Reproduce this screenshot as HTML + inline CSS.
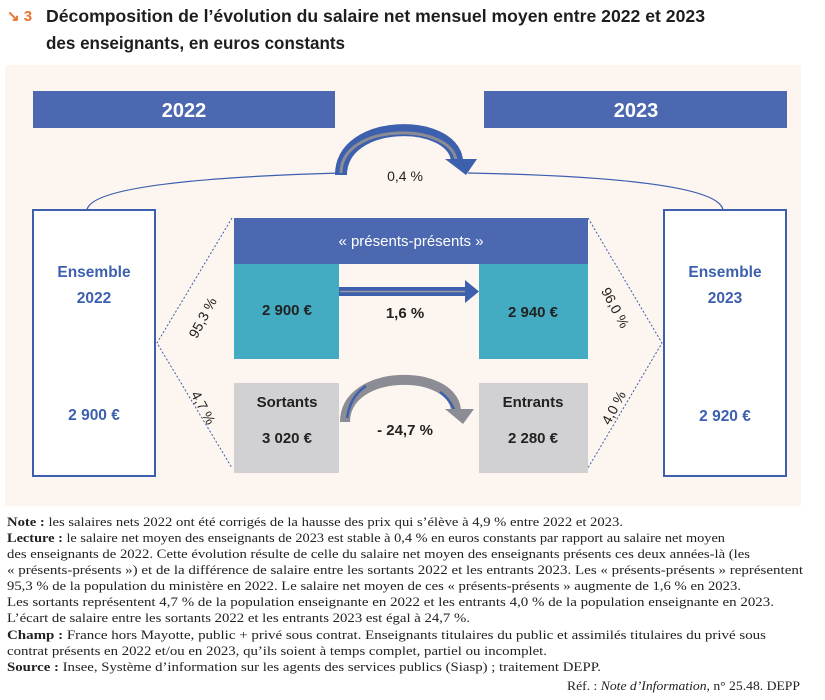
<!DOCTYPE html>
<html><head><meta charset="utf-8"><style>
html,body{margin:0;padding:0;background:#fff;}
svg{display:block;}
.t{font-family:"Liberation Sans",sans-serif;font-weight:bold;}
.n{font-family:"Liberation Serif",serif;font-size:13px;fill:#222;}
</style></head><body>
<svg width="825" height="700" viewBox="0 0 825 700" xmlns="http://www.w3.org/2000/svg">
<rect width="825" height="700" fill="#fff"/>
<text x="7" y="21" class="t" font-size="15" fill="#e9732b">↘ 3</text>
<text x="46" y="22" class="t" font-size="17.5" fill="#1e1e1e" textLength="659" lengthAdjust="spacingAndGlyphs">Décomposition de l’évolution du salaire net mensuel moyen entre 2022 et 2023</text>
<text x="46" y="49" class="t" font-size="17.5" fill="#1e1e1e" textLength="299" lengthAdjust="spacingAndGlyphs">des enseignants, en euros constants</text>
<rect x="5" y="65" width="796" height="441" fill="#fdf5ef"/>
<rect x="33" y="91" width="302" height="37" fill="#4c68b0"/>
<rect x="484" y="91" width="303" height="37" fill="#4c68b0"/>
<text x="184" y="117" text-anchor="middle" class="t" font-size="20" fill="#fff">2022</text>
<text x="636" y="117" text-anchor="middle" class="t" font-size="20" fill="#fff">2023</text>
<path d="M87 210 Q92 180 340 173" fill="none" stroke="#3c5fae" stroke-width="1.3"/>
<path d="M468 173 Q718 178 723 210" fill="none" stroke="#3c5fae" stroke-width="1.3"/>
<path d="M341 175 C341 118, 452 118, 457 160" fill="none" stroke="#3c5fae" stroke-width="12"/>
<path d="M341 173 C341 122, 450 122, 456 160" fill="none" stroke="#8c8c95" stroke-width="3"/>
<polygon points="445,159 477,159 466,175" fill="#3c5fae"/>
<text x="405" y="181" text-anchor="middle" font-family="Liberation Sans, sans-serif" font-size="14" fill="#222">0,4 %</text>
<rect x="33" y="210" width="122" height="266" fill="#fff" stroke="#3c5fae" stroke-width="2"/>
<rect x="664" y="210" width="122" height="266" fill="#fff" stroke="#3c5fae" stroke-width="2"/>
<g class="t" font-size="15.5" fill="#3c5fae" text-anchor="middle">
<text x="94" y="277">Ensemble</text><text x="94" y="303">2022</text><text x="94" y="420">2 900 €</text>
<text x="725" y="277">Ensemble</text><text x="725" y="303">2023</text><text x="725" y="421">2 920 €</text>
</g>
<g fill="none" stroke="#3c5fae" stroke-width="1" stroke-dasharray="2,2">
<path d="M232 218 L157 343 L232 468"/>
<path d="M588 218 L662 343 L588 468"/>
</g>
<rect x="234" y="218" width="354" height="46" fill="#4c68b0"/>
<text x="411" y="246" text-anchor="middle" font-family="Liberation Sans, sans-serif" font-size="15" fill="#fff">« présents-présents »</text>
<rect x="234" y="264" width="105" height="95" fill="#43acc3"/>
<rect x="479" y="264" width="109" height="95" fill="#43acc3"/>
<text x="287" y="315" text-anchor="middle" class="t" font-size="15" fill="#222">2 900 €</text>
<text x="533" y="317" text-anchor="middle" class="t" font-size="15" fill="#222">2 940 €</text>
<rect x="339" y="287" width="128" height="9" fill="#3c5fae"/>
<line x1="340" y1="291.5" x2="466" y2="291.5" stroke="#9a9aa5" stroke-width="1.5"/>
<polygon points="465,280 479,291.5 465,303" fill="#3c5fae"/>
<text x="405" y="318" text-anchor="middle" class="t" font-size="15" fill="#222">1,6 %</text>
<rect x="234" y="383" width="105" height="90" fill="#d1d1d3"/>
<rect x="479" y="383" width="109" height="90" fill="#d1d1d3"/>
<text x="287" y="407" text-anchor="middle" class="t" font-size="15" fill="#222">Sortants</text>
<text x="287" y="443" text-anchor="middle" class="t" font-size="15" fill="#222">3 020 €</text>
<text x="533" y="407" text-anchor="middle" class="t" font-size="15" fill="#222">Entrants</text>
<text x="533" y="443" text-anchor="middle" class="t" font-size="15" fill="#222">2 280 €</text>
<path d="M345 422 C345 368, 452 368, 456 410" fill="none" stroke="#8c8c95" stroke-width="10"/>
<path d="M347 418 C350 398, 360 390, 366 386" fill="none" stroke="#3c5fae" stroke-width="2.5"/>
<path d="M440 392 C448 398, 452 404, 455 412" fill="none" stroke="#3c5fae" stroke-width="2.5"/>
<polygon points="445,409 474,409 463,424" fill="#8c8c95"/>
<text x="405" y="435" text-anchor="middle" class="t" font-size="15" fill="#222">- 24,7 %</text>
<g font-family="Liberation Sans, sans-serif" font-size="14" fill="#222">
<text transform="translate(207,320) rotate(-62)" text-anchor="middle">95,3 %</text>
<text transform="translate(199,410) rotate(62)" text-anchor="middle">4,7 %</text>
<text transform="translate(611,310) rotate(62)" text-anchor="middle">96,0 %</text>
<text transform="translate(618,410) rotate(-62)" text-anchor="middle">4,0 %</text>
</g>
<g class="n">
<text x="7" y="526" textLength="616" lengthAdjust="spacingAndGlyphs"><tspan font-weight="bold">Note :</tspan> les salaires nets 2022 ont été corrigés de la hausse des prix qui s’élève à 4,9 % entre 2022 et 2023.</text>
<text x="7" y="542" textLength="718" lengthAdjust="spacingAndGlyphs"><tspan font-weight="bold">Lecture :</tspan> le salaire net moyen des enseignants de 2023 est stable à 0,4 % en euros constants par rapport au salaire net moyen</text>
<text x="7" y="558" textLength="743" lengthAdjust="spacingAndGlyphs">des enseignants de 2022. Cette évolution résulte de celle du salaire net moyen des enseignants présents ces deux années-là (les</text>
<text x="7" y="574" textLength="796" lengthAdjust="spacingAndGlyphs">« présents-présents ») et de la différence de salaire entre les sortants 2022 et les entrants 2023. Les « présents-présents » représentent</text>
<text x="7" y="590" textLength="734" lengthAdjust="spacingAndGlyphs">95,3 % de la population du ministère en 2022. Le salaire net moyen de ces « présents-présents » augmente de 1,6 % en 2023.</text>
<text x="7" y="606" textLength="767" lengthAdjust="spacingAndGlyphs">Les sortants représentent 4,7 % de la population enseignante en 2022 et les entrants 4,0 % de la population enseignante en 2023.</text>
<text x="7" y="622" textLength="463" lengthAdjust="spacingAndGlyphs">L’écart de salaire entre les sortants 2022 et les entrants 2023 est égal à 24,7 %.</text>
<text x="7" y="639" textLength="759" lengthAdjust="spacingAndGlyphs"><tspan font-weight="bold">Champ :</tspan> France hors Mayotte, public + privé sous contrat. Enseignants titulaires du public et assimilés titulaires du privé sous</text>
<text x="7" y="655" textLength="540" lengthAdjust="spacingAndGlyphs">contrat présents en 2022 et/ou en 2023, qu’ils soient à temps complet, partiel ou incomplet.</text>
<text x="7" y="671" textLength="594" lengthAdjust="spacingAndGlyphs"><tspan font-weight="bold">Source :</tspan> Insee, Système d’information sur les agents des services publics (Siasp) ; traitement DEPP.</text>
<text x="800" y="690" text-anchor="end" textLength="233" lengthAdjust="spacingAndGlyphs">Réf. : <tspan font-style="italic">Note d’Information</tspan>, n° 25.48. DEPP</text>
</g>
</svg>
</body></html>
